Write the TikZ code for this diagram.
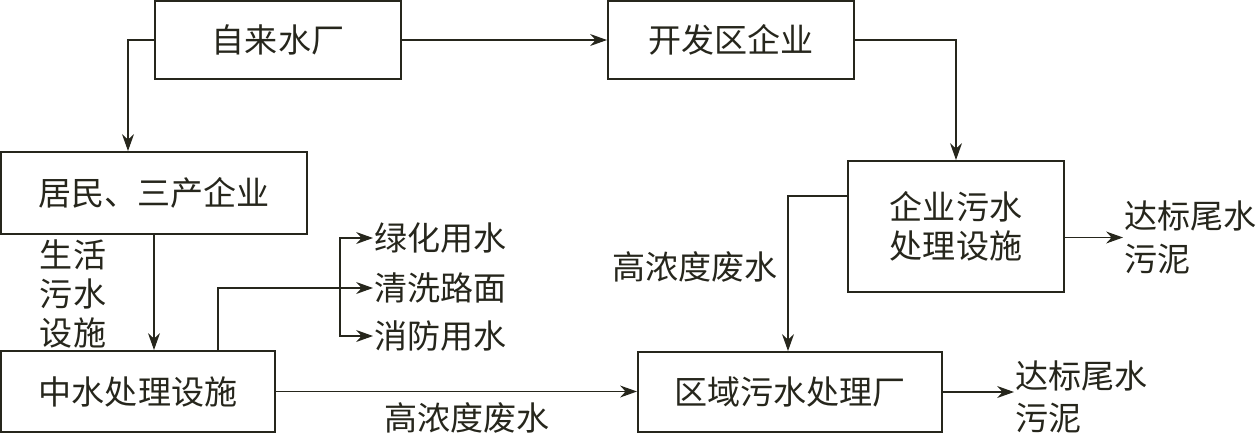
\documentclass[tikz,border=0pt]{standalone}
\usepackage{fontspec}
\setmainfont{Noto Sans CJK SC}
\usepackage{tikz}
\usetikzlibrary{arrows.meta}
\definecolor{ink}{RGB}{38,38,28}
\tikzset{box/.style={draw=ink,line width=1.4pt,inner sep=0pt,align=center,text=ink},
         lbl/.style={text=ink,inner sep=1pt,align=left},
         arr/.style={draw=ink,line width=0.8pt,-{Stealth[length=12pt,width=8.5pt]}},
         ln/.style={draw=ink,line width=0.8pt}
}

\begin{document}
\begin{tikzpicture}[x=0.025cm,y=-0.025cm,font=\fontsize{23.5}{28}\selectfont]
           \useasboundingbox (0,0) rectangle (1256,437);
           \node[box,minimum width=6.15cm,minimum height=1.95cm] (water) at (278,40) {自来水厂};
           \node[box,minimum width=6.15cm,minimum height=1.95cm] (dev) at (731,40) {开发区企业};
           \node[box,minimum width=7.65cm,minimum height=2.05cm] (resid) at (154,193) {居民、三产企业};
           \node[box,minimum width=6.85cm,minimum height=2.025cm] (mid) at (138,391.5) {中水处理设施};
           \node[box,minimum width=7.6cm,minimum height=2.0cm] (region) at (790,392) {区域污水处理厂};
           \node[box,minimum width=5.4cm,minimum height=3.275cm] (ent) at (956,226.5) {企业污水\\处理设施};
           \node[lbl,anchor=west,font=\fontsize{23.5}{30.5}\selectfont] (out1) at (1123,237.5) {达标尾水\\污泥};
           \node[lbl,anchor=west,font=\fontsize{23.5}{30.5}\selectfont] (out2) at (1014,397) {达标尾水\\污泥};
           \node[lbl,anchor=west] (green) at (373,238) {绿化用水};
           \node[lbl,anchor=west] (wash) at (373,288) {清洗路面};
           \node[lbl,anchor=west] (fire) at (373,336) {消防用水};
           \node[lbl,align=center,font=\fontsize{23.5}{27.6}\selectfont] (life) at (73,294) {生活\\污水\\设施};
           \node[lbl] (high1) at (467,418) {高浓度废水};
           \node[lbl] (high2) at (695,267) {高浓度废水};
           \coordinate (k1) at (128,0);
           \coordinate (k2) at (788,196);
           \coordinate (k3) at (218,0);
           \coordinate (k4) at (340,0);
           \draw[arr] (water.west) -| (k1 |- resid.north);
           \draw[arr] (water.east) -- (dev.west);
           \draw[arr] (dev.east) -| (ent.north);
           \draw[arr] (k2 -| ent.west) -- (k2) -- (k2 |- region.north);
           \draw[arr] (ent.east |- out1.west) -- (out1.west);
           \draw[arr] (region.east) -- (region.east -| out2.west);
           \draw[arr] (resid.south) -- (resid.south |- mid.north);
           \draw[arr] (mid.east) -- (mid.east -| region.west);
           \draw[arr] (k3 |- mid.north) |- (wash.west);
           \draw[arr] (k4 |- wash.west) |- (green.west);
           \draw[arr] (k4 |- wash.west) |- (fire.west);
         \end{tikzpicture}
\end{document}
